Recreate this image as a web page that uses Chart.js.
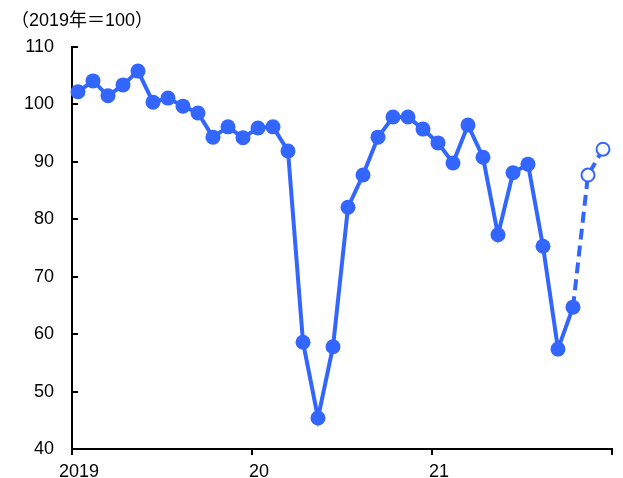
<!DOCTYPE html>
<html><head><meta charset="utf-8">
<script src="https://cdn.jsdelivr.net/npm/chart.js@4"></script>
<style>html,body{margin:0;padding:0;background:#fff}</style>
</head><body>
<canvas id="c" width="623" height="478"></canvas>
<script>
// Monthly index, Jan 2019 onward (2019 = 100)
const yearLabels = ['2019', '20', '21'];
const actualValues = [102.2,104.1,101.5,103.4,105.8,100.4,101.1,99.7,98.5,94.3,96.1,94.2,
                      95.9,96.1,91.9,58.6,45.4,57.8,82.1,87.7,94.3,97.8,97.8,95.7,
                      93.3,89.8,96.4,90.8,77.3,88.1,89.6,75.3,57.4,64.7];
const forecastValues = [87.7, 92.2];
const yTickValues = [40,50,60,70,80,90,100,110];
const titleText = '（2019年＝100）';

const blue = '#3366ff';
const pointOffset = 0.4;
const actualPts = actualValues.map((v,i)=>({x:i+pointOffset, y:v}));
const lastIdx = actualValues.length-1;
const forecastPts = [{x:lastIdx+pointOffset, y:actualValues[lastIdx]}]
  .concat(forecastValues.map((v,i)=>({x:lastIdx+1+i+pointOffset, y:v})));

const font = {family:'"Liberation Sans", "Noto Sans CJK JP", sans-serif', size:18, weight:'normal'};
Chart.defaults.font = font;
Chart.defaults.color = '#000';

new Chart(document.getElementById('c'), {
  type:'line',
  data:{datasets:[
    {data:actualPts, borderColor:blue, backgroundColor:blue, borderWidth:4,
     pointRadius:7.5, pointBackgroundColor:blue, pointBorderColor:blue, pointBorderWidth:0,
     tension:0, clip:12},
    {data:forecastPts, borderColor:blue, borderWidth:4, borderDash:[11,6],
     pointRadius:forecastPts.map((p,i)=>i===0?0:6.5), pointBackgroundColor:'#fff',
     pointBorderColor:blue, pointBorderWidth:2, tension:0, clip:12}
  ]},
  options:{
    responsive:false, animation:false, devicePixelRatio:1,
    layout:{padding:{left:11,right:11,top:0,bottom:0}},
    plugins:{
      legend:{display:false}, tooltip:{enabled:false},
      title:{display:true, text:titleText, align:'start', color:'#000', font:font,
             padding:{top:10,bottom:15.4}}
    },
    scales:{
      x:{type:'linear', min:0, max:36,
         afterBuildTicks:s=>{s.ticks=[0,12,24,36].map(v=>({value:v}));},
         afterFit:s=>{s.height=29;},
         ticks:{callback:v=>yearLabels[v/12]??'', autoSkip:false, maxRotation:0,
                labelOffset:7, padding:6, color:'#000', font:font},
         grid:{drawOnChartArea:false, drawTicks:true, tickLength:6, color:'#000', lineWidth:2},
         border:{display:true, color:'#000', width:2}},
      y:{min:40, max:110,
         afterBuildTicks:s=>{s.ticks=yTickValues.map(v=>({value:v}));},
         afterFit:s=>{s.width=61; s.paddingTop=11; s.paddingBottom=11;},
         ticks:{padding:24, color:'#000', font:font},
         grid:{drawOnChartArea:false, drawTicks:true, tickLength:-6, color:'#000', lineWidth:2},
         border:{display:true, color:'#000', width:2}}
    }
  }
});
</script>
</body></html>
